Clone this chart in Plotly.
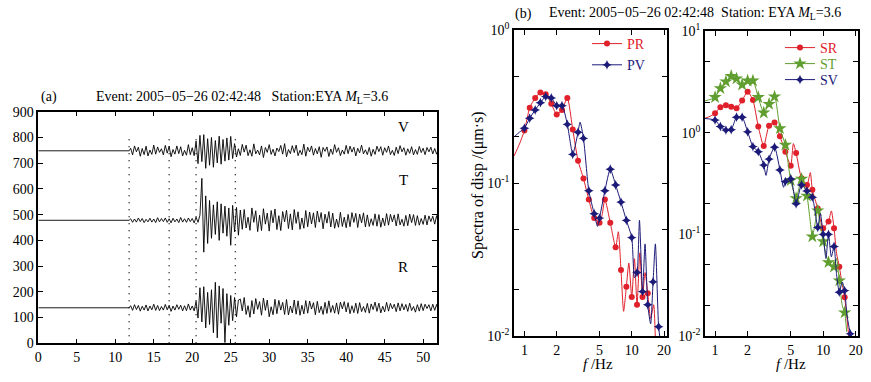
import plotly.graph_objects as go

# ---------------- (a) three-component waveforms ----------------
t_first = 12.0          # first sample of the digitised record (s)
dt = 0.25               # sample interval (s)
flat_start, flat_end = 0.0, 11.8

baseline_V = 748
baseline_T = 478
baseline_R = 138

V_amp = [
    10, -16, 19, -4, 14, -21, 9, -15, 18, -20,
    3, -14, 22, -13, 15, -6, 8, -16, 21, -9,
    17, -23, 5, -13, 19, -11, 16, -20, 2, -17,
    24, -15, 12, -19,
    38, -50, 60, -42, 63, -68, 47, -56, 52, -64,
    40, -47, 57, -52, 44, -40, 50, -36, 56, -30, 28,
    -24, 8, -18, 25, -5, 22, -19, 4, -21, 27,
    -12, 3, -16, 19, -26, 13, -6, 24, -14, 6,
    -20, 11, -3, 21, -13, 28, -23, 5, -11, 20,
    -7, 22, -19, 2, -15, 26, -21, 14, -4, 19,
    -17, 9, -12, 16, -25, 13, -2, 15, -22, 7,
    -14, 24, -6, 12, -19, 3, -13, 21, -11, 18,
    -5, 14, -20, 10, -8, 22, -12, 4, -15, 13,
    -21, 6, -14, 18, -3, 16, -17, 12, -6, 19,
    -15, 2, -18, 14, -11, 20, -4, 12, -17, 8,
    -10, 16, -16, 5, -14, 17, -7, 10, -15, 13,
    -4, 14, -12, 9, -13, 6,
]

T_amp = [
    6, -8, 5, -7, 9, -5, 7, -9, 4, -6,
    8, -7, 5, -9, 10, -6, 7, -5, 9, -8,
    6, -10, 8, -6, 5, -9, 11, -7, 6, -8,
    9, -5, 7, -10, 12, -8,
    20, 163, -124, 95, -90, 77, -70, 60, -55, 72,
    -78, 64, -50, 55, -62, 48, -97, 58, -45, 50,
    -58, 40, -35,
    42, -30, 12, -39, 48, -8, 37, -44, 20, -40,
    45, -15, 28, -42, 38, -10, 44, -36, 18, -40,
    34, -6, 39, -32, 25, -37, 42, -12, 33, -35,
    9, -31, 38, -25, 32, -14, 29, -28, 36, -7,
    30, -33, 24, -11, 34, -26, 28, -31, 5, -27,
    31, -24, 12, -29, 23, -25, 30, -8, 27, -28,
    24, -10, 29, -26, 21, -24, 6, -20, 25, -23,
    22, -27, 9, -21, 26, -19, 23, -6, 21, -22,
    25, -18, 4, -23, 19, -21, 24, -9, 22, -20,
    18, -19, 7, -16, 20, -18, 17, -5, 16, -15,
    18, -17,
]

R_amp = [
    8, -10, 12, -7, 9, -13, 6, -9, 11, -12,
    7, -8, 14, -10, 9, -11, 5, -9, 13, -8,
    10, -14, 7, -9, 12, -6, 10, -12, 8, -11,
    15, -9, 7, -12,
    25, -40, 78, -55, 82, -78, 60, -65, 70, -97,
    99, -117, 85, -60, 75, -135, 55, -68, 48, -50,
    40, -35, 30,
    34, -12, 40, -26, 8, -37, 28, -24, 36, -6,
    24, -29, 38, -10, 30, -35, 4, -27, 33, -23,
    29, -9, 21, -26, 32, -28, 7, -20, 30, -25,
    27, -29, 10, -24, 28, -21, 26, -5, 20, -27,
    25, -19, 6, -26, 21, -22, 27, -18, 9, -21,
    19, -25, 22, -4, 24, -16, 20, -23, 8, -19,
    18, -22, 20, -15, 5, -18, 17, -21, 15, -7,
    22, -14, 18, -20, 6, -16, 21, -13, 17, -4,
    14, -15, 19, -12, 16, -8, 13, -14, 18, -11,
    5, -17, 12, -13, 16, -11, 14, -3, 12, -12,
    14, -10, 13, -14,
]

pick_times = [11.8, 17.0, 20.5, 25.6]
pick_top = 810

component_labels = ["V", "T", "R"]
component_label_y = [840, 635, 296]
component_label_x = 47.4

# ---------------- (b) displacement spectra ----------------
marker_freqs = [1.00, 1.12, 1.26, 1.41, 1.58, 1.78, 2.00, 2.24, 2.51, 2.82, 3.16,
                3.55, 3.98, 4.47, 5.01, 5.62, 6.31, 7.08, 7.94, 8.91, 10.0, 11.2,
                12.6, 14.1, 15.8, 17.8]

PR_f = [0.80, 0.90, 1.00, 1.12, 1.26, 1.41, 1.58, 1.78, 2.00, 2.24, 2.51, 2.82, 3.16,
        3.55, 3.98, 4.47, 5.01, 5.30, 5.62, 6.31, 7.08, 7.50, 7.94, 8.40, 8.91, 9.40,
        10.0, 10.6, 11.2, 11.9, 12.6, 13.3, 14.1, 15.0, 16.0, 16.6]
PR_v = [0.150, 0.180, 0.220, 0.310, 0.360, 0.390, 0.380, 0.330, 0.280, 0.300, 0.360,
        0.224, 0.140, 0.107, 0.078, 0.059, 0.055, 0.062, 0.078, 0.055, 0.038, 0.048,
        0.027, 0.0145, 0.021, 0.030, 0.018, 0.032, 0.016, 0.035, 0.018, 0.026, 0.019,
        0.013, 0.016, 0.0095]

PV_f = [0.80, 0.90, 1.00, 1.12, 1.26, 1.41, 1.58, 1.78, 2.00, 2.24, 2.51, 2.82, 3.00,
        3.16, 3.30, 3.55, 3.98, 4.47, 4.80, 5.01, 5.62, 6.31, 7.08, 7.94, 8.91, 10.0,
        10.6, 11.2, 11.8, 12.6, 13.3, 14.1, 15.0, 15.8, 16.6, 17.8, 18.6]
PV_v = [0.200, 0.215, 0.228, 0.265, 0.300, 0.335, 0.367, 0.360, 0.320, 0.320, 0.242,
        0.154, 0.180, 0.215, 0.250, 0.196, 0.089, 0.063, 0.052, 0.059, 0.089, 0.123,
        0.097, 0.075, 0.057, 0.044, 0.024, 0.026, 0.057, 0.0195, 0.040, 0.016, 0.012,
        0.0226, 0.040, 0.0115, 0.009]

SR_f = [0.80, 0.90, 1.00, 1.12, 1.26, 1.41, 1.58, 1.78, 2.00, 2.24, 2.51, 2.82, 3.16,
        3.55, 3.98, 4.47, 5.01, 5.30, 5.62, 6.31, 7.08, 7.60, 7.94, 8.91, 10.0, 11.2,
        11.9, 12.6, 13.3, 14.1, 15.0, 15.8, 16.5, 17.3]
SR_v = [1.38, 1.45, 1.55, 1.78, 1.86, 1.80, 1.74, 2.07, 2.53, 2.09, 1.15, 0.74, 1.17,
        1.26, 0.92, 0.65, 0.474, 0.78, 0.63, 0.356, 0.306, 0.405, 0.274, 0.18, 0.115,
        0.134, 0.17, 0.115, 0.065, 0.048, 0.032, 0.024, 0.016, 0.0095]

ST_f = [0.80, 0.90, 1.00, 1.12, 1.26, 1.41, 1.58, 1.78, 2.00, 2.24, 2.51, 2.82, 3.16,
        3.55, 3.98, 4.47, 5.01, 5.62, 6.31, 7.08, 7.50, 7.94, 8.91, 9.40, 10.0, 11.2,
        12.6, 13.3, 14.1, 15.0, 15.8, 16.5]
ST_v = [2.05, 2.12, 2.23, 2.73, 3.18, 3.60, 3.40, 2.96, 3.24, 3.24, 2.23, 1.57, 1.91,
        2.26, 1.10, 0.757, 0.34, 0.226, 0.35, 0.239, 0.15, 0.095, 0.171, 0.12, 0.085,
        0.053, 0.048, 0.058, 0.035, 0.020, 0.017, 0.011]

SV_f = [0.80, 0.90, 1.00, 1.12, 1.26, 1.41, 1.58, 1.78, 2.00, 2.24, 2.51, 2.82, 2.96,
        3.16, 3.55, 3.98, 4.30, 4.47, 5.01, 5.62, 6.31, 7.08, 7.94, 8.91, 9.40, 10.0,
        10.6, 11.2, 11.9, 12.6, 13.3, 14.1, 15.0, 15.8, 16.6, 17.8, 18.5]
SV_v = [1.38, 1.36, 1.33, 1.15, 1.06, 1.07, 1.42, 1.42, 1.02, 0.73, 0.65, 0.48, 0.38,
        0.55, 0.72, 0.43, 0.29, 0.33, 0.35, 0.20, 0.306, 0.267, 0.232, 0.117, 0.16,
        0.10, 0.058, 0.10, 0.06, 0.076, 0.04, 0.027, 0.034, 0.028, 0.016, 0.0105, 0.008]

x_ticks_spec = [1, 2, 5, 10, 20]

RED = "#e0202a"
NAVY = "#1c1a78"
GREEN = "#5f9e2f"
FONT = "Liberation Serif"

W, H = 871, 382


def px_x(p):
    return p / W


def px_y(p):
    return 1 - p / H


fig = go.Figure()

# waveforms
for amp, base in ((V_amp, baseline_V), (T_amp, baseline_T), (R_amp, baseline_R)):
    xs = [flat_start, flat_end] + [t_first + dt * i for i in range(len(amp))]
    ys = [base, base] + [base + a for a in amp]
    fig.add_trace(go.Scatter(x=xs, y=ys, mode="lines", line=dict(color="black", width=0.9),
                             showlegend=False, xaxis="x", yaxis="y", hoverinfo="skip"))

for p in pick_times:
    fig.add_trace(go.Scatter(x=[p, p], y=[0, pick_top], mode="lines",
                             line=dict(color="black", width=1.3, dash="1px,6px"),
                             showlegend=False, xaxis="x", yaxis="y", hoverinfo="skip"))


def add_spectrum(f, v, color, symbol, msize, name, xa, ya, legend):
    fig.add_trace(go.Scatter(x=f, y=v, mode="lines",
                             line=dict(color=color, width=1, shape="spline", smoothing=0.6),
                             showlegend=False, xaxis=xa, yaxis=ya, hoverinfo="skip"))
    mf = [a for a in f if any(abs(a - m) < 1e-6 for m in marker_freqs)]
    mv = [b for a, b in zip(f, v) if any(abs(a - m) < 1e-6 for m in marker_freqs)]
    fig.add_trace(go.Scatter(x=mf, y=mv, mode="markers",
                             marker=dict(color=color, symbol=symbol, size=msize, line=dict(width=0)),
                             showlegend=False, xaxis=xa, yaxis=ya, hoverinfo="skip", cliponaxis=True))
    fig.add_trace(go.Scatter(x=[None], y=[None], mode="lines+markers",
                             line=dict(color=color, width=1),
                             marker=dict(color=color, symbol=symbol, size=msize, line=dict(width=0)),
                             name=f"<span style='color:{color}'>{name}</span>",
                             xaxis=xa, yaxis=ya, legend=legend))


add_spectrum(PR_f, PR_v, RED, "circle", 6, "PR", "x2", "y2", "legend")
add_spectrum(PV_f, PV_v, NAVY, "star-diamond", 7, "PV", "x2", "y2", "legend")
add_spectrum(SR_f, SR_v, RED, "circle", 6, "SR", "x3", "y3", "legend2")
add_spectrum(ST_f, ST_v, GREEN, "star", 10, "ST", "x3", "y3", "legend3")
add_spectrum(SV_f, SV_v, NAVY, "star-diamond", 7, "SV", "x3", "y3", "legend4")

axis_common = dict(showline=True, linecolor="black", linewidth=1.5, mirror="allticks",
                   ticks="inside", ticklen=5, tickwidth=1, tickcolor="black",
                   showgrid=False, zeroline=False, automargin=False,
                   tickfont=dict(family=FONT, size=14, color="black"))


def legend_box(xp, yp, anchor="top"):
    return dict(x=px_x(xp), y=px_y(yp), xanchor="left", yanchor=anchor,
                bgcolor="rgba(0,0,0,0)", borderwidth=0, font=dict(family=FONT, size=14),
                tracegroupgap=0, itemwidth=30)


fig.update_layout(
    template="none",
    width=W, height=H, margin=dict(l=0, r=0, t=0, b=0, pad=0, autoexpand=False),
    paper_bgcolor="white", plot_bgcolor="white",
    font=dict(family=FONT, size=14, color="black"),
    xaxis=dict(domain=[px_x(38.3), px_x(437)], range=[0, 51.8],
               tickvals=list(range(0, 51, 5)), anchor="y", **axis_common),
    yaxis=dict(domain=[px_y(343.3), px_y(111.7)], range=[0, 900],
               tickvals=list(range(0, 901, 100)), anchor="x", **axis_common),
    xaxis2=dict(domain=[px_x(514), px_x(667)], type="log", range=[-0.0969, 1.3284],
                tickvals=x_ticks_spec, ticktext=[str(v) for v in x_ticks_spec],
                anchor="y2", **axis_common),
    yaxis2=dict(domain=[px_y(336), px_y(30)], type="log", range=[-2, 0],
                tickvals=[0.01, 0.02, 0.05, 0.1, 0.2, 0.5, 1],
                ticktext=["10<sup>-2</sup>", "", "", "10<sup>-1</sup>", "", "", "10<sup>0</sup>"],
                anchor="x2", **axis_common),
    xaxis3=dict(domain=[px_x(705), px_x(858)], type="log", range=[-0.093, 1.322],
                tickvals=x_ticks_spec, ticktext=[str(v) for v in x_ticks_spec],
                anchor="y3", **axis_common),
    yaxis3=dict(domain=[px_y(336), px_y(31)], type="log", range=[-2, 1],
                tickvals=[0.01, 0.02, 0.05, 0.1, 0.2, 0.5, 1, 2, 5, 10],
                ticktext=["10<sup>-2</sup>", "", "", "10<sup>-1</sup>", "", "",
                          "10<sup>0</sup>", "", "", "10<sup>1</sup>"],
                anchor="x3", **axis_common),
    legend=legend_box(587, 28),
    legend2=legend_box(780, 48, "middle"),
    legend3=legend_box(780, 64, "middle"),
    legend4=legend_box(780, 80, "middle"),
)


def note(x, y, text, size=14, angle=0, ref="paper"):
    return dict(x=x, y=y, xref=ref if ref == "paper" else "x", yref=ref if ref == "paper" else "y",
                text=text, showarrow=False, textangle=angle, xanchor="center", yanchor="middle",
                font=dict(family=FONT, size=size, color="black"))


ann = []
for lab, ly in zip(component_labels, component_label_y):
    ann.append(note(component_label_x, ly, lab, size=15, ref="data"))
ann += [
    note(px_x(49), px_y(97), "(a)"),
    note(px_x(242), px_y(97),
         "Event: 2005\u221205\u221226 02:42:48&nbsp;&nbsp;&nbsp;Station:EYA <i>M</i><sub>L</sub>=3.6"),
    note(px_x(523), px_y(14), "(b)"),
    note(px_x(695), px_y(14),
         "Event: 2005\u221205\u221226 02:42:48&nbsp;&nbsp;Station: EYA <i>M</i><sub>L</sub>=3.6"),
    note(px_x(478), px_y(185), "Spectra of disp /(\u03bcm\u00b7s)", size=16, angle=-90),
    note(px_x(598), px_y(364), "<i>f</i> /Hz", size=15),
    note(px_x(791), px_y(364), "<i>f</i> /Hz", size=15),
]
fig.update_layout(annotations=ann)

fig.write_html("out.html", config={"displayModeBar": False},
               post_script="document.body.style.margin='0px';document.body.style.overflow='hidden';")
